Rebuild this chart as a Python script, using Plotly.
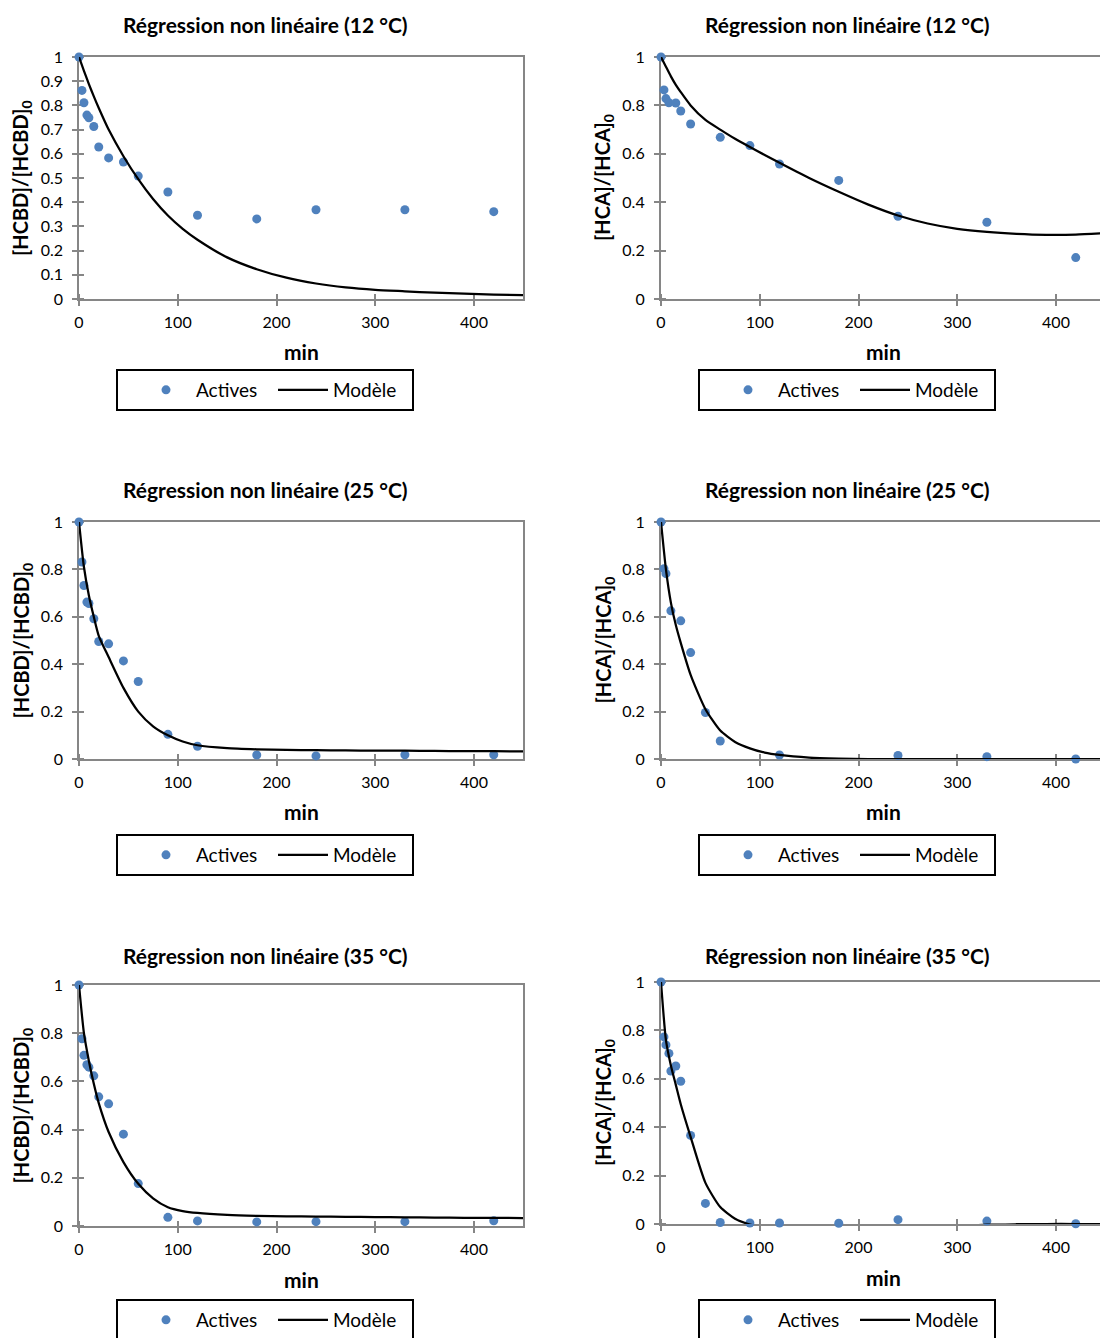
import plotly.graph_objects as go

# ---------------- data ----------------
t_hcbd = [0, 3, 5, 8, 10, 15, 20, 30, 45, 60, 90, 120, 180, 240, 330, 420]
hcbd_12 = [1.0, 0.862, 0.811, 0.760, 0.749, 0.713, 0.628, 0.583, 0.566, 0.508, 0.442, 0.346, 0.331, 0.369, 0.369, 0.361]
hcbd_25 = [1.0, 0.831, 0.732, 0.662, 0.656, 0.592, 0.496, 0.486, 0.414, 0.327, 0.104, 0.054, 0.017, 0.013, 0.018, 0.018]
hcbd_35 = [1.0, 0.777, 0.708, 0.669, 0.659, 0.623, 0.536, 0.507, 0.381, 0.176, 0.036, 0.021, 0.017, 0.018, 0.018, 0.022]

t_hca_12 = [0, 3, 5, 8, 15, 20, 30, 60, 90, 120, 180, 240, 330, 420]
hca_12 = [1.0, 0.864, 0.828, 0.811, 0.810, 0.777, 0.723, 0.668, 0.634, 0.558, 0.490, 0.342, 0.317, 0.171]
t_hca_25 = [0, 3, 5, 10, 20, 30, 45, 60, 120, 240, 330, 420]
hca_25 = [1.0, 0.803, 0.782, 0.625, 0.583, 0.449, 0.196, 0.076, 0.017, 0.015, 0.010, 0.0]
t_hca_35 = [0, 3, 5, 8, 10, 15, 20, 30, 45, 60, 90, 120, 180, 240, 330, 420]
hca_35 = [1.0, 0.773, 0.740, 0.705, 0.632, 0.653, 0.590, 0.366, 0.085, 0.006, 0.004, 0.004, 0.003, 0.018, 0.012, 0.001]

t_model = [0, 5, 10, 15, 20, 30, 45, 60, 75, 90, 105, 120, 150, 180, 210, 240, 270, 300, 330, 360, 390, 420, 450]
model_hcbd_12 = [1.0, 0.943, 0.888, 0.837, 0.789, 0.700, 0.590, 0.495, 0.413, 0.345, 0.290, 0.245, 0.172, 0.123, 0.088, 0.064, 0.048, 0.038, 0.032, 0.026, 0.022, 0.018, 0.016]
model_hcbd_25 = [1.0, 0.81, 0.69, 0.60, 0.52, 0.43, 0.30, 0.20, 0.138, 0.100, 0.074, 0.058, 0.046, 0.041, 0.038, 0.037, 0.036, 0.035, 0.035, 0.034, 0.033, 0.033, 0.032]
model_hcbd_35 = [1.0, 0.80, 0.685, 0.59, 0.51, 0.39, 0.265, 0.175, 0.115, 0.078, 0.062, 0.054, 0.046, 0.042, 0.040, 0.039, 0.038, 0.037, 0.036, 0.035, 0.034, 0.034, 0.033]
model_hca_12 = [1.0, 0.96, 0.92, 0.885, 0.855, 0.80, 0.74, 0.70, 0.662, 0.628, 0.595, 0.563, 0.50, 0.443, 0.39, 0.345, 0.312, 0.29, 0.277, 0.269, 0.265, 0.266, 0.272]
model_hca_25 = [1.0, 0.80, 0.66, 0.565, 0.49, 0.355, 0.21, 0.12, 0.072, 0.045, 0.027, 0.017, 0.006, 0.002, 0.0, 0.0, 0.0, 0.0, 0.0, 0.0, 0.0, 0.0, 0.0]
model_hca_35 = [1.0, 0.76, 0.655, 0.575, 0.495, 0.36, 0.17, 0.07, 0.022, -0.002, -0.015, -0.025, -0.035, -0.038, -0.036, -0.03, -0.02, -0.01, -0.003, -0.001, 0.0, 0.0, 0.0]

titles = ["Régression non linéaire (12 °C)", "Régression non linéaire (25 °C)", "Régression non linéaire (35 °C)"]
ytitle_hcbd = "[HCBD]/[HCBD]<sub>0</sub>"
ytitle_hca = "[HCA]/[HCA]<sub>0</sub>"
xtitle = "min"
series_names = ["Actives", "Modèle"]

# ---------------- layout helpers ----------------
W, H = 1100, 1338
FONT = "Lato"
BLUE = "#4F81BD"
GRAY = "#868686"


def fx(px):
    return px / W


def fy(py):
    return 1 - py / H


# panel geometry (pixels): left, right, top, bottom, title_y, min_y, legend box top
panels = [
    dict(t=t_hcbd, y=hcbd_12, m=model_hcbd_12, yt=ytitle_hcbd, dt=0.1, L=79, R=523, T=57, B=299, ty=24, my=352, lt=370, side="L", title=titles[0]),
    dict(t=t_hca_12, y=hca_12, m=model_hca_12, yt=ytitle_hca, dt=0.2, L=661, R=1100, T=57, B=299, ty=24, my=352, lt=370, side="R", title=titles[0]),
    dict(t=t_hcbd, y=hcbd_25, m=model_hcbd_25, yt=ytitle_hcbd, dt=0.2, L=79, R=523, T=522, B=759, ty=489, my=812, lt=835, side="L", title=titles[1]),
    dict(t=t_hca_25, y=hca_25, m=model_hca_25, yt=ytitle_hca, dt=0.2, L=661, R=1100, T=522, B=759, ty=489, my=812, lt=835, side="R", title=titles[1]),
    dict(t=t_hcbd, y=hcbd_35, m=model_hcbd_35, yt=ytitle_hcbd, dt=0.2, L=79, R=523, T=985, B=1226, ty=955, my=1280, lt=1300, side="L", title=titles[2]),
    dict(t=t_hca_35, y=hca_35, m=model_hca_35, yt=ytitle_hca, dt=0.2, L=661, R=1100, T=982, B=1224, ty=955, my=1278, lt=1300, side="R", title=titles[2]),
]

PX_PER_MIN = 0.9875

fig = go.Figure()
layout = dict(
    width=W, height=H,
    template="none",
    margin=dict(l=0, r=0, t=0, b=0, pad=0, autoexpand=False),
    paper_bgcolor="white", plot_bgcolor="white",
    font=dict(family=FONT, color="black"),
    annotations=[], shapes=[],
)

for i, p in enumerate(panels):
    n = i + 1
    xa = "x" if n == 1 else f"x{n}"
    ya = "y" if n == 1 else f"y{n}"
    lg = "legend" if n == 1 else f"legend{n}"
    right = p["side"] == "R"
    xmax = (p["R"] - p["L"]) / PX_PER_MIN
    lw = 2.25 if right else 1.5

    fig.add_trace(go.Scatter(
        x=p["t"], y=p["y"], mode="markers", name=series_names[0],
        marker=dict(color=BLUE, size=9, line=dict(width=0)), cliponaxis=False,
        xaxis=xa, yaxis=ya, legend=lg, showlegend=True,
    ))
    fig.add_trace(go.Scatter(
        x=t_model, y=p["m"], mode="lines", name=series_names[1],
        line=dict(color="black", width=2.25, shape="spline", smoothing=0.6),
        xaxis=xa, yaxis=ya, legend=lg, showlegend=True,
    ))

    layout[f"xaxis{n if n > 1 else ''}"] = dict(
        domain=[fx(p["L"]), fx(p["R"])], range=[0, xmax], anchor=ya, automargin=False,
        tickmode="linear", tick0=0, dtick=100,
        showgrid=False, zeroline=False,
        showline=True, linecolor=GRAY, linewidth=lw, mirror=True,
        ticks="outside", ticklen=5, tickcolor=GRAY, tickwidth=1.5,
        minor=dict(ticks="inside", ticklen=5, tickcolor=GRAY, tickwidth=1.5, tick0=1e-6, dtick=100, showgrid=False),
        tickfont=dict(family=FONT, size=16, color="black"),
        ticklabelstandoff=3, layer="below traces", fixedrange=True,
    )
    layout[f"yaxis{n if n > 1 else ''}"] = dict(
        domain=[fy(p["B"]), fy(p["T"])], range=[0, 1], anchor=xa, automargin=False,
        tickmode="linear", tick0=0, dtick=p["dt"],
        showgrid=False, zeroline=False,
        showline=True, linecolor=GRAY, linewidth=lw, mirror=not right,
        ticks="outside", ticklen=5, tickcolor=GRAY, tickwidth=1.5,
        minor=dict(ticks="inside", ticklen=5, tickcolor=GRAY, tickwidth=1.5, tick0=1e-9, dtick=p["dt"], showgrid=False),
        tickfont=dict(family=FONT, size=16, color="black"),
        ticklabelstandoff=6, layer="below traces", fixedrange=True,
    )

    cx = (p["L"] + (p["L"] + 450 * PX_PER_MIN)) / 2
    chart_cx = 265 if not right else 847
    layout["annotations"] += [
        dict(text=f"<b>{p['title']}</b>", x=fx(chart_cx), y=fy(p["ty"]), xref="paper", yref="paper",
             xanchor="center", yanchor="middle", showarrow=False, font=dict(family=FONT, size=21)),
        dict(text=f"<b>{xtitle}</b>", x=fx(cx), y=fy(p["my"] - 1), xref="paper", yref="paper",
             xanchor="center", yanchor="middle", showarrow=False, font=dict(family=FONT, size=21)),
        dict(text=f"<b>{p['yt']}</b>", x=fx(22 if not right else 604), y=fy((p["T"] + p["B"]) / 2),
             xref="paper", yref="paper", xanchor="center", yanchor="middle", textangle=-90,
             showarrow=False, font=dict(family=FONT, size=20)),
    ]
    bx0 = 117 if not right else 699
    layout["shapes"].append(dict(
        type="rect", xref="paper", yref="paper", x0=fx(bx0), x1=fx(bx0 + 296),
        y0=fy(p["lt"] + 40), y1=fy(p["lt"]), line=dict(color="black", width=2), fillcolor="rgba(0,0,0,0)",
    ))
    layout[lg] = dict(
        x=fx(bx0 + 19), y=fy(p["lt"] + 20), xanchor="left", yanchor="middle",
        orientation="h", bgcolor="rgba(0,0,0,0)", borderwidth=0,
        font=dict(family=FONT, size=19, color="black"),
        itemwidth=50, entrywidth=72, traceorder="normal",
        itemclick=False, itemdoubleclick=False,
    )

fig.update_layout(**layout)
fig.write_html(
    "out.html",
    config={"displayModeBar": False},
    post_script="document.body.style.margin='0px';document.body.style.padding='0px';",
)
